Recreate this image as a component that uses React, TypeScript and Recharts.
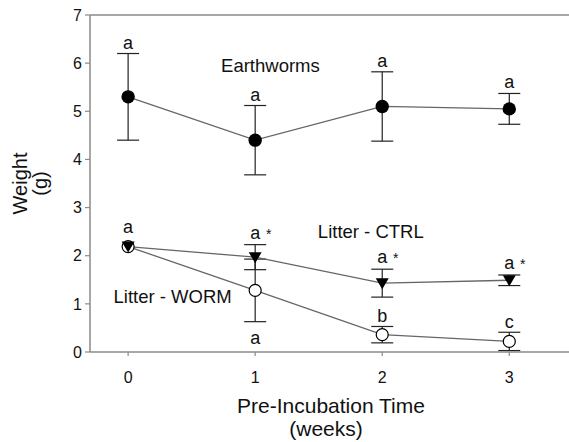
import { LineChart, Line, XAxis, YAxis, ErrorBar, ReferenceLine, ReferenceDot } from 'recharts'

const weeks = [0, 1, 2, 3]
const wormsMean = [5.3, 4.4, 5.1, 5.05]
const wormsErr = [0.9, 0.72, 0.72, 0.32]
const ctrlMean = [2.19, 1.97, 1.43, 1.49]
const ctrlErr = [0, 0.26, 0.29, 0.11]
const litterWormMean = [2.19, 1.28, 0.36, 0.22]
const litterWormErr = [0, 0.65, 0.17, 0.19]

const xTicks = [0, 1, 2, 3]
const yTicks = [0, 1, 2, 3, 4, 5, 6, 7]

// significance letters per time point
const wormsLetters = ['a', 'a', 'a', 'a']
const ctrlLetters = ['a', 'a *', 'a *', 'a *']
const litterWormLetters = ['', 'a', 'b', 'c']

const seriesNames = ['Earthworms', 'Litter - CTRL', 'Litter - WORM']
const seriesNameX = [1.12, 1.91, 0.35]
const seriesNameY = [5.82, 2.36, 1.01]

const FONT = '"Liberation Sans", Arial, Helvetica, sans-serif'
const AXIS = '#8a8a8a'
const LINE = '#666'

const data = weeks.map((w, i) => ({
  week: w,
  worms: wormsMean[i],
  wormsErr: wormsErr[i],
  ctrl: ctrlMean[i],
  ctrlErr: ctrlErr[i],
  litterWorm: litterWormMean[i],
  litterWormErr: litterWormErr[i],
}))

function Anno(props: any) {
  const { viewBox, text, dy } = props
  if (!viewBox || !text) return null
  const x = viewBox.x + (viewBox.width || 0) / 2
  const y = viewBox.y + (viewBox.height || 0) / 2 + dy
  const [main, star] = text.split(' ')
  return (
    <g fontFamily={FONT} fill="#111">
      <text x={x} y={y} textAnchor="middle" fontSize={18}>{main}</text>
      {star && <text x={x + 13.5} y={y} textAnchor="middle" fontSize={14}>{star}</text>}
    </g>
  )
}

function SeriesName(props: any) {
  const { viewBox, text } = props
  if (!viewBox) return null
  const x = viewBox.x + (viewBox.width || 0) / 2
  const y = viewBox.y + (viewBox.height || 0) / 2
  return (
    <text x={x} y={y} textAnchor="middle" fontSize={18.5} fontFamily={FONT} fill="#111">{text}</text>
  )
}

function YTitle(props: any) {
  const vb = props.viewBox
  const cy = vb.y + vb.height / 2
  return (
    <g transform={`translate(27, ${cy}) rotate(-90)`} fontFamily={FONT} fontSize={20} fill="#111">
      <text x={0} y={0} textAnchor="middle">Weight</text>
      <text x={0} y={20} textAnchor="middle">(g)</text>
    </g>
  )
}

function XTitle() {
  return (
    <g fontFamily={FONT} fontSize={21} fill="#111">
      <text x={331} y={413} textAnchor="middle">Pre-Incubation Time</text>
      <text x={326} y={436} textAnchor="middle">(weeks)</text>
    </g>
  )
}

const filledDot = (p: any) => (
  <circle key={`w-${p.index}`} cx={p.cx} cy={p.cy} r={6.7} fill="#000" />
)
const openDot = (p: any) => (
  <circle key={`o-${p.index}`} cx={p.cx} cy={p.cy} r={6} fill="#fff" stroke="#000" strokeWidth={1.2} />
)
const triDot = (p: any) => (
  <polygon
    key={`t-${p.index}`}
    points={`${p.cx - 6.5},${p.cy - 5} ${p.cx + 6.5},${p.cy - 5} ${p.cx},${p.cy + 6}`}
    fill="#000"
  />
)

export default function App() {
  const annos: any[] = []
  weeks.forEach((w, i) => {
    annos.push({ x: w, y: wormsMean[i] + wormsErr[i], text: wormsLetters[i], dy: -5 })
    annos.push(
      i === 0
        ? { x: w, y: ctrlMean[i], text: ctrlLetters[i], dy: -14 }
        : { x: w, y: ctrlMean[i] + ctrlErr[i], text: ctrlLetters[i], dy: -6 }
    )
    if (i === 1) {
      annos.push({ x: w, y: litterWormMean[i] - litterWormErr[i], text: litterWormLetters[i], dy: 22 })
    } else {
      annos.push({ x: w, y: litterWormMean[i] + litterWormErr[i], text: litterWormLetters[i], dy: -4.5 })
    }
  })

  return (
    <div style={{ position: 'absolute', left: 0, top: 0, background: '#fff' }}>
      <LineChart width={569} height={442} data={data} margin={{ top: 15, right: 0, left: 0, bottom: 0 }}>
        <XAxis
          dataKey="week"
          type="number"
          domain={[-0.3, 3.47]}
          ticks={xTicks}
          allowDataOverflow
          height={90}
          tickSize={4}
          tickMargin={16}
          tick={{ fontSize: 16, fill: '#111', fontFamily: FONT }}
          axisLine={{ stroke: AXIS, strokeWidth: 1.5 }}
          tickLine={{ stroke: AXIS, strokeWidth: 1.2 }}
          label={<XTitle />}
        />
        <YAxis
          type="number"
          domain={[0, 7]}
          ticks={yTicks}
          width={90}
          tickSize={5}
          tickMargin={3}
          tick={{ fontSize: 16, fill: '#111', fontFamily: FONT }}
          axisLine={{ stroke: AXIS, strokeWidth: 1.5 }}
          tickLine={{ stroke: AXIS, strokeWidth: 1.2 }}
          label={<YTitle />}
        />
        <ReferenceLine y={7} stroke={AXIS} strokeWidth={1.5} />

        <Line dataKey="worms" stroke={LINE} strokeWidth={1.3} dot={filledDot} activeDot={false} isAnimationActive={false}>
          <ErrorBar dataKey="wormsErr" width={11} stroke="#222" strokeWidth={1.2} direction="y" />
        </Line>
        <Line dataKey="litterWorm" stroke={LINE} strokeWidth={1.3} dot={openDot} activeDot={false} isAnimationActive={false}>
          <ErrorBar dataKey="litterWormErr" width={11} stroke="#222" strokeWidth={1.2} direction="y" />
        </Line>
        <Line dataKey="ctrl" stroke={LINE} strokeWidth={1.3} dot={triDot} activeDot={false} isAnimationActive={false}>
          <ErrorBar dataKey="ctrlErr" width={11} stroke="#222" strokeWidth={1.2} direction="y" />
        </Line>

        {annos.map((a, i) => (
          <ReferenceDot
            key={`a-${i}`}
            x={a.x}
            y={a.y}
            r={0}
            fill="none"
            stroke="none"
            ifOverflow="visible"
            label={<Anno text={a.text} dy={a.dy} />}
          />
        ))}
        {seriesNames.map((s, i) => (
          <ReferenceDot
            key={`s-${i}`}
            x={seriesNameX[i]}
            y={seriesNameY[i]}
            r={0}
            fill="none"
            stroke="none"
            ifOverflow="visible"
            label={<SeriesName text={s} />}
          />
        ))}
      </LineChart>
    </div>
  )
}
